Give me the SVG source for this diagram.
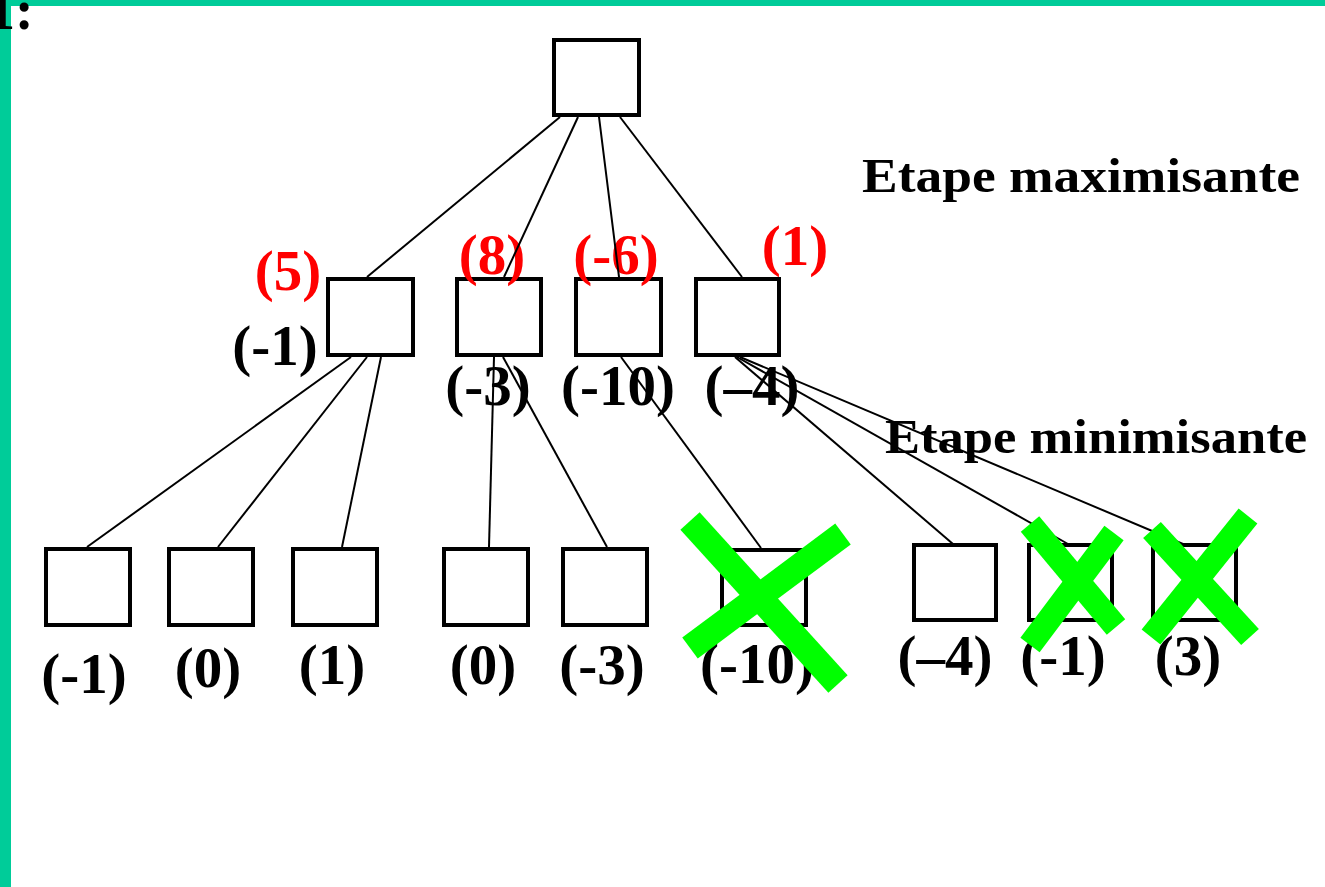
<svg xmlns="http://www.w3.org/2000/svg" width="1325" height="887" viewBox="0 0 1325 887">
<defs>
<style>
.box{fill:none;stroke:#000;stroke-width:4}
.lbl{font-family:"Liberation Serif","Times New Roman",serif;font-weight:bold;font-size:57px;text-anchor:middle;fill:#000}
.red{fill:#ff0000}
.title{font-family:"Liberation Serif","Times New Roman",serif;font-weight:bold;font-size:48px;fill:#000}
.edge{stroke:#000;stroke-width:2;fill:none}
.cross{stroke:#00ff00;stroke-linecap:butt;fill:none}
</style>
</defs>
<rect x="0" y="0" width="1325" height="887" fill="#fff"/>
<rect x="0" y="0" width="1325" height="6" fill="#00cc99"/>
<rect x="0" y="0" width="11" height="887" fill="#00cc99"/>
<text x="-13" y="29" style="font-family:'Liberation Serif','Times New Roman',serif;font-weight:bold;font-size:56px;fill:#000">1:</text>

<text class="title" x="862" y="192" textLength="438" lengthAdjust="spacingAndGlyphs">Etape maximisante</text>
<text class="title" x="885" y="453" textLength="422" lengthAdjust="spacingAndGlyphs">Etape minimisante</text>

<g id="root"><rect class="box" x="554" y="40" width="85" height="75"/></g>

<g id="n1"><rect class="box" x="328" y="279" width="85" height="76"/>
<text class="lbl red" x="288" y="290">(5)</text>
<text class="lbl" x="275" y="365">(-1)</text></g>
<g id="n2"><rect class="box" x="457" y="279" width="84" height="76"/>
<text class="lbl red" x="492" y="274">(8)</text>
<text class="lbl" x="488" y="405">(-3)</text></g>
<g id="n3"><rect class="box" x="576" y="279" width="85" height="76"/>
<text class="lbl red" x="616" y="274">(-6)</text>
<text class="lbl" x="618" y="405">(-10)</text></g>
<g id="n4"><rect class="box" x="696" y="279" width="83" height="76"/>
<text class="lbl red" x="795" y="265">(1)</text>
<text class="lbl" x="752" y="405">(–4)</text></g>

<g id="b1"><rect class="box" x="46" y="549" width="84" height="76"/><text class="lbl" x="84" y="693">(-1)</text></g>
<g id="b2"><rect class="box" x="169" y="549" width="84" height="76"/><text class="lbl" x="208" y="687">(0)</text></g>
<g id="b3"><rect class="box" x="293" y="549" width="84" height="76"/><text class="lbl" x="332" y="684">(1)</text></g>
<g id="b4"><rect class="box" x="444" y="549" width="84" height="76"/><text class="lbl" x="483" y="684">(0)</text></g>
<g id="b5"><rect class="box" x="563" y="549" width="84" height="76"/><text class="lbl" x="602" y="684">(-3)</text></g>
<g id="b6"><rect class="box" x="722" y="550" width="84" height="75"/><text class="lbl" x="757" y="683">(-10)</text></g>
<g id="b7"><rect class="box" x="914" y="545" width="82" height="75"/><text class="lbl" x="945" y="675">(–4)</text></g>
<g id="b8"><rect class="box" x="1029" y="545" width="83" height="75"/><text class="lbl" x="1063" y="675">(-1)</text></g>
<g id="b9"><rect class="box" x="1153" y="545" width="83" height="75"/><text class="lbl" x="1188" y="675">(3)</text></g>

<g id="connectors">
<line class="edge" x1="560" y1="117" x2="367" y2="277"/>
<line class="edge" x1="578" y1="117" x2="504" y2="277"/>
<line class="edge" x1="599" y1="117" x2="619" y2="277"/>
<line class="edge" x1="620" y1="117" x2="742" y2="277"/>
<line class="edge" x1="351" y1="357" x2="87" y2="547"/>
<line class="edge" x1="367" y1="357" x2="218" y2="547"/>
<line class="edge" x1="381" y1="357" x2="342" y2="547"/>
<line class="edge" x1="494" y1="357" x2="489" y2="547"/>
<line class="edge" x1="503" y1="357" x2="607" y2="547"/>
<line class="edge" x1="621" y1="357" x2="761" y2="548"/>
<line class="edge" x1="735" y1="357" x2="953" y2="544"/>
<line class="edge" x1="737" y1="357" x2="1068" y2="544"/>
<line class="edge" x1="740" y1="357" x2="1183" y2="544"/>
</g>

<g id="cuts">
<line class="cross" stroke-width="26" x1="690" y1="521" x2="838" y2="684"/>
<line class="cross" stroke-width="26" x1="843" y1="534" x2="690" y2="648"/>
<line class="cross" stroke-width="24" x1="1030" y1="524" x2="1116" y2="627"/>
<line class="cross" stroke-width="24" x1="1114" y1="533" x2="1030" y2="645"/>
<line class="cross" stroke-width="24" x1="1152" y1="530" x2="1250" y2="637"/>
<line class="cross" stroke-width="24" x1="1248" y1="516" x2="1151" y2="637"/>
</g>
</svg>
